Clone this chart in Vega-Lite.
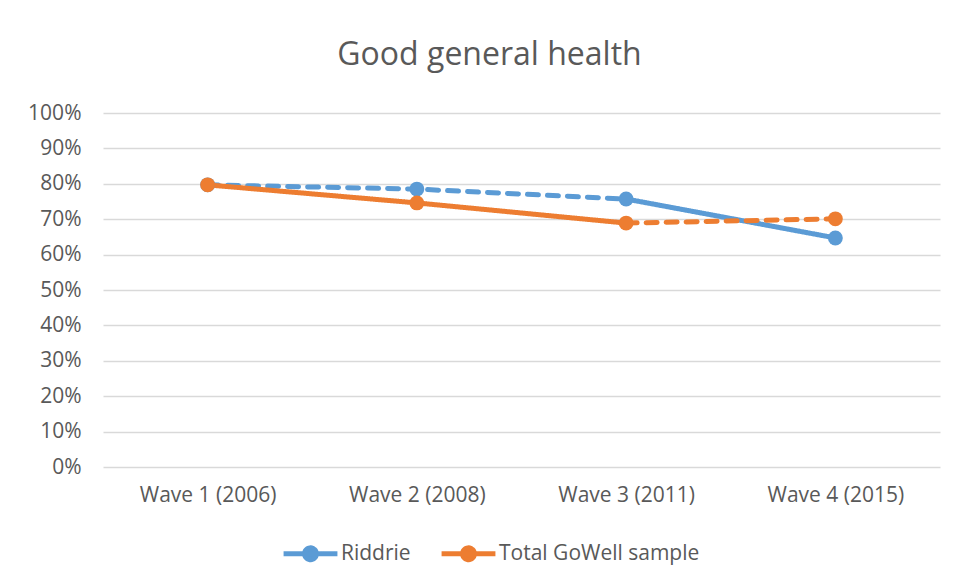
{
  "$schema": "https://vega.github.io/schema/vega-lite/v6.json",
  "autosize": {"type": "none"},
  "width": 837,
  "height": 354,
  "padding": {"left": 103, "top": 113, "right": 17, "bottom": 116},
  "background": "white",
  "config": {"view": {"stroke": null}, "font": "Open Sans"},
  "title": {"text": "Good general health", "fontSize": 32, "font": "Open Sans", "fontWeight": "normal", "color": "#595959", "offset": 30, "dx": -32},
  "datasets": {
    "segs": [
      {"series": "Riddrie", "seg": "R1", "style": "dashed", "wave": "Wave 1 (2006)", "value": 0.797},
      {"series": "Riddrie", "seg": "R1", "style": "dashed", "wave": "Wave 2 (2008)", "value": 0.785},
      {"series": "Riddrie", "seg": "R1", "style": "dashed", "wave": "Wave 3 (2011)", "value": 0.757},
      {"series": "Riddrie", "seg": "R2", "style": "solid", "wave": "Wave 3 (2011)", "value": 0.757},
      {"series": "Riddrie", "seg": "R2", "style": "solid", "wave": "Wave 4 (2015)", "value": 0.647},
      {"series": "Total GoWell sample", "seg": "T1", "style": "solid", "wave": "Wave 1 (2006)", "value": 0.797},
      {"series": "Total GoWell sample", "seg": "T1", "style": "solid", "wave": "Wave 2 (2008)", "value": 0.746},
      {"series": "Total GoWell sample", "seg": "T1", "style": "solid", "wave": "Wave 3 (2011)", "value": 0.689},
      {"series": "Total GoWell sample", "seg": "T2", "style": "dashed", "wave": "Wave 3 (2011)", "value": 0.689},
      {"series": "Total GoWell sample", "seg": "T2", "style": "dashed", "wave": "Wave 4 (2015)", "value": 0.701}
    ],
    "pts": [
      {"series": "Riddrie", "wave": "Wave 1 (2006)", "value": 0.797},
      {"series": "Riddrie", "wave": "Wave 2 (2008)", "value": 0.785},
      {"series": "Riddrie", "wave": "Wave 3 (2011)", "value": 0.757},
      {"series": "Riddrie", "wave": "Wave 4 (2015)", "value": 0.647},
      {"series": "Total GoWell sample", "wave": "Wave 1 (2006)", "value": 0.797},
      {"series": "Total GoWell sample", "wave": "Wave 2 (2008)", "value": 0.746},
      {"series": "Total GoWell sample", "wave": "Wave 3 (2011)", "value": 0.689},
      {"series": "Total GoWell sample", "wave": "Wave 4 (2015)", "value": 0.701}
    ]
  },
  "encoding": {
    "x": {"field": "wave", "type": "ordinal", "sort": null, "scale": {"type": "point", "padding": 0.5},
      "axis": {"title": null, "labelAngle": 0, "labelFontSize": 21, "labelColor": "#595959", "labelFont": "Open Sans", "domain": false, "ticks": false, "labelPadding": 17, "grid": false}},
    "y": {"field": "value", "type": "quantitative", "scale": {"domain": [0, 1], "nice": false},
      "axis": {"title": null, "values": [0, 0.1, 0.2, 0.3, 0.4, 0.5, 0.6, 0.7, 0.8, 0.9, 1], "format": ".0%", "labelFontSize": 21, "labelColor": "#595959", "labelFont": "Open Sans", "domain": false, "ticks": false, "labelPadding": 22, "gridColor": "#d9d9d9", "gridWidth": 1.5}},
    "color": {"field": "series", "type": "nominal",
      "scale": {"domain": ["Riddrie", "Total GoWell sample"], "range": ["#5b9bd5", "#ed7d31"]},
      "legend": {"title": null, "orient": "none", "direction": "horizontal", "legendX": 178, "legendY": 411,
        "symbolType": "M-1,0 L1,0 M0.22,0 A0.22,0.22 0 1 1 -0.22,0 A0.22,0.22 0 1 1 0.22,0",
        "symbolSize": 2900, "symbolStrokeWidth": 5, "symbolOpacity": 1, "symbolDash": [1, 0],
        "labelFontSize": 21, "labelColor": "#595959", "labelFont": "Open Sans", "labelLimit": 400, "columnPadding": 20, "labelOffset": 1}}
  },
  "layer": [
    {
      "data": {"name": "segs"},
      "mark": {"type": "line", "strokeWidth": 5, "strokeCap": "round"},
      "encoding": {
        "detail": {"field": "seg"},
        "strokeDash": {"field": "style", "type": "nominal", "scale": {"domain": ["solid", "dashed"], "range": [[1, 0], [11, 9]]}, "legend": null}
      }
    },
    {
      "data": {"name": "pts"},
      "mark": {"type": "point", "filled": true, "opacity": 1, "size": 220}
    }
  ]
}
